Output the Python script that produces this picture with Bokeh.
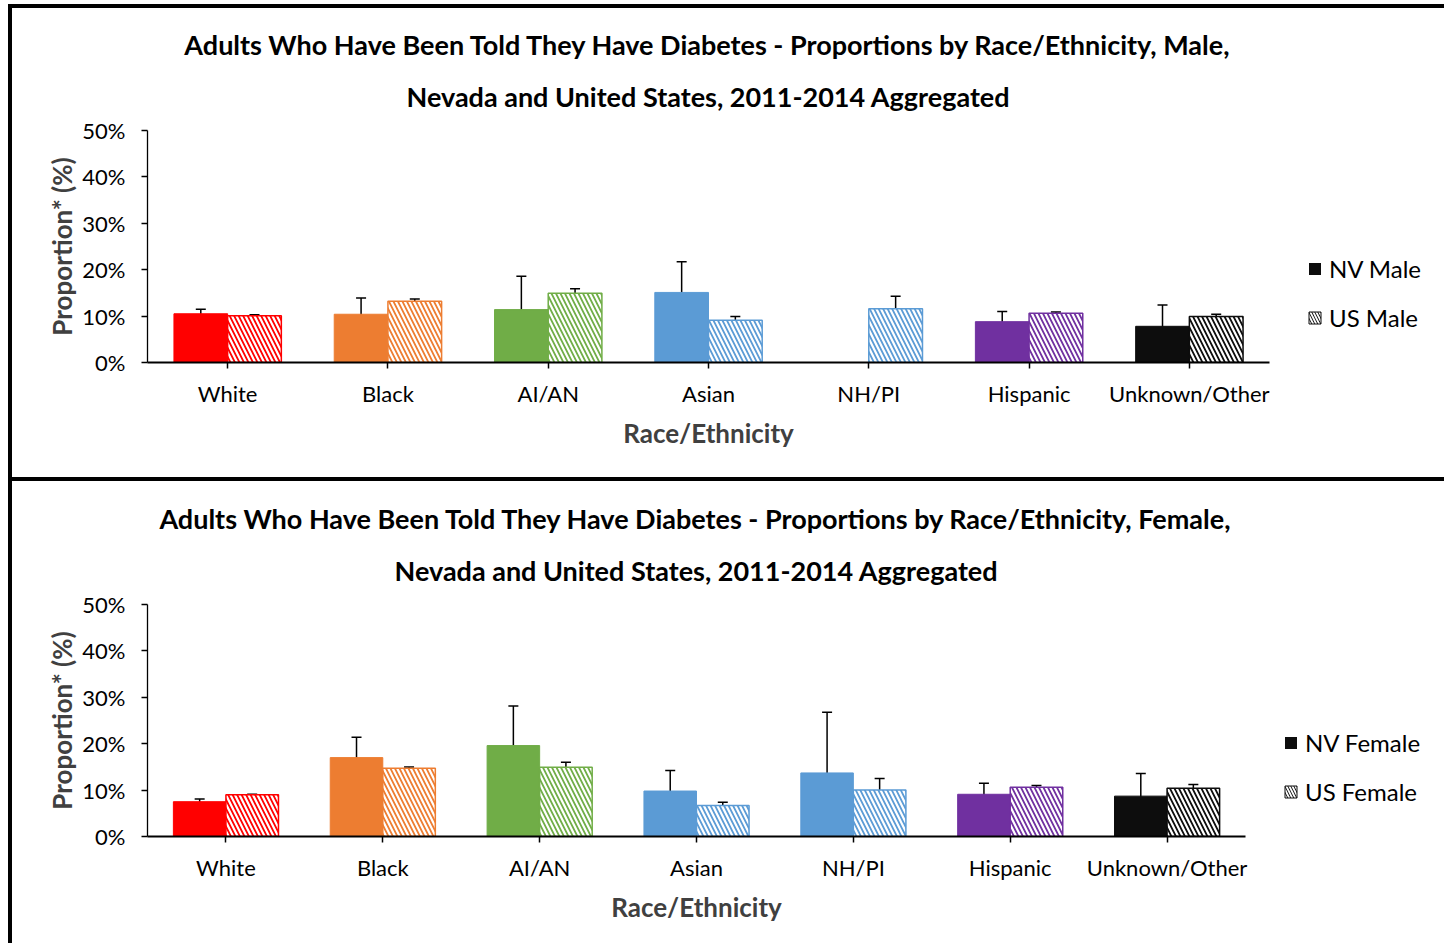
from bokeh.plotting import figure
from bokeh.models import (ColumnDataSource, FactorRange, Range1d, Whisker, TeeHead, Title,
                          Legend, LegendItem, PrintfTickFormatter, FixedTicker)
from bokeh.layouts import column
from bokeh.transform import dodge
from bokeh.embed import file_html
from bokeh.resources import INLINE

# ---------------- data ----------------
categories = ["White", "Black", "AI/AN", "Asian", "NH/PI", "Hispanic", "Unknown/Other"]
bar_colors = ["#FF0000", "#ED7D31", "#70AD47", "#5B9BD5", "#5B9BD5", "#7030A0", "#0D0D0D"]
y_ticks = [0, 10, 20, 30, 40, 50]

male_nv = [10.5, 10.4, 11.4, 15.1, None, 8.8, 7.8]
male_nv_lo = [9.2, 6.4, 3.8, 8.1, None, 6.4, 2.9]
male_nv_hi = [11.5, 13.9, 18.6, 21.7, None, 11.0, 12.4]
male_us = [10.1, 13.2, 14.9, 9.1, 11.6, 10.6, 9.9]
male_us_lo = [9.9, 12.6, 13.6, 8.0, 8.9, 10.2, 9.3]
male_us_hi = [10.3, 13.7, 15.9, 9.9, 14.3, 10.9, 10.4]

female_nv = [7.5, 17.0, 19.6, 9.8, 13.7, 9.1, 8.7]
female_nv_lo = [6.4, 12.2, 10.9, 5.2, 0.1, 6.5, 3.7]
female_nv_hi = [8.1, 21.4, 28.1, 14.2, 26.8, 11.5, 13.6]
female_us = [9.0, 14.7, 14.9, 6.7, 10.0, 10.6, 10.4]
female_us_lo = [8.9, 14.2, 13.7, 5.8, 7.3, 10.1, 9.7]
female_us_hi = [9.1, 15.0, 16.0, 7.4, 12.5, 11.0, 11.2]

male_title = ["Adults Who Have Been Told They Have Diabetes - Proportions by Race/Ethnicity, Male,",
              "Nevada and United States, 2011-2014 Aggregated"]
female_title = ["Adults Who Have Been Told They Have Diabetes - Proportions by Race/Ethnicity, Female,",
                "Nevada and United States, 2011-2014 Aggregated"]

FONT = "Lato"
BAR_W = 0.335
DODGE = BAR_W / 2


def series_source(vals, lo, hi):
    d = dict(cat=[], val=[], lo=[], hi=[], color=[])
    for c, v, l, h, col in zip(categories, vals, lo, hi, bar_colors):
        if v is None:
            continue
        d["cat"].append(c); d["val"].append(v); d["lo"].append(l); d["hi"].append(h); d["color"].append(col)
    return ColumnDataSource(d)


def make_chart(titles, nv, nv_lo, nv_hi, us, us_lo, us_hi, leg_labels,
               top_b, bottom_b, right_b, frame_w, margin):
    p = figure(x_range=FactorRange(factors=categories), y_range=Range1d(0, 50),
               frame_width=frame_w, frame_height=228,
               output_backend="svg", toolbar_location=None,
               min_border_left=135, min_border_right=right_b,
               min_border_top=top_b, min_border_bottom=bottom_b, margin=margin,
               styles={"border-left": "4px solid black", "border-top": "4px solid black"})
    p.outline_line_color = None
    p.xgrid.grid_line_color = None
    p.ygrid.grid_line_color = None
    p.background_fill_color = "white"
    p.border_fill_color = "white"

    # two-line title (line nearest the frame is added first)
    p.add_layout(Title(text=titles[1], align="center", standoff=35,
                       text_font=FONT, text_font_size="27px", text_font_style="bold",
                       text_color="black"), "above")
    p.add_layout(Title(text=titles[0], align="center", standoff=0,
                       text_font=FONT, text_font_size="27px", text_font_style="bold",
                       text_color="black"), "above")

    src_nv = series_source(nv, nv_lo, nv_hi)
    src_us = series_source(us, us_lo, us_hi)

    p.vbar(x=dodge("cat", -DODGE, range=p.x_range), top="val", width=BAR_W, source=src_nv,
           fill_color="color", line_color="color", line_width=1)
    p.vbar(x=dodge("cat", DODGE, range=p.x_range), top="val", width=BAR_W, source=src_us,
           fill_color="color", line_color="color", line_width=1.5,
           hatch_pattern="left_diagonal_line", hatch_color="white",
           hatch_scale=9, hatch_weight=2.2)

    for src, off in ((src_nv, -DODGE), (src_us, DODGE)):
        w = Whisker(base=dodge("cat", off, range=p.x_range), upper="hi", lower="lo", source=src,
                    line_color="black", line_width=1.5,
                    upper_head=TeeHead(size=10, line_color="black", line_width=1.5),
                    lower_head=TeeHead(size=10, line_color="black", line_width=1.5))
        p.add_layout(w)

    # legend (zero-height dummy bars in black)
    dummy = ColumnDataSource(dict(cat=[categories[0]], val=[0]))
    r_nv = p.vbar(x="cat", top="val", bottom="val", width=BAR_W, source=dummy,
                  fill_color="#0D0D0D", line_color=None)
    r_us = p.vbar(x="cat", top="val", bottom="val", width=BAR_W, source=dummy,
                  fill_color="#0D0D0D", line_color="#0D0D0D", line_width=1,
                  hatch_pattern="left_diagonal_line", hatch_color="white",
                  hatch_scale=6, hatch_weight=1.8)
    legend = Legend(items=[LegendItem(label=leg_labels[0], renderers=[r_nv]),
                           LegendItem(label=leg_labels[1], renderers=[r_us])],
                    location=(38, 30), orientation="vertical", padding=0, margin=0,
                    label_text_font=FONT, label_text_font_size="24px", label_text_color="black",
                    glyph_width=15, glyph_height=15, label_height=28, label_standoff=7,
                    spacing=20, border_line_color=None, background_fill_alpha=0)
    p.add_layout(legend, "right")

    # axes
    xa = p.xaxis[0]
    xa.axis_label = "Race/Ethnicity"
    xa.axis_label_text_font = FONT
    xa.axis_label_text_font_size = "26px"
    xa.axis_label_text_font_style = "bold"
    xa.axis_label_text_color = "#404040"
    xa.axis_label_standoff = 7
    xa.major_label_text_font = FONT
    xa.major_label_text_font_size = "22px"
    xa.major_label_text_color = "black"
    xa.major_label_standoff = 11
    xa.axis_line_color = "black"
    xa.axis_line_width = 2
    xa.major_tick_line_color = "black"
    xa.major_tick_line_width = 1.5
    xa.major_tick_in = 0
    xa.major_tick_out = 6

    ya = p.yaxis[0]
    ya.ticker = FixedTicker(ticks=y_ticks)
    ya.formatter = PrintfTickFormatter(format="%d%%")
    ya.axis_label = "Proportion* (%)"
    ya.axis_label_text_font = FONT
    ya.axis_label_text_font_size = "26px"
    ya.axis_label_text_font_style = "bold"
    ya.axis_label_text_color = "#404040"
    ya.axis_label_standoff = 1
    ya.major_label_text_font = FONT
    ya.major_label_text_font_size = "22px"
    ya.major_label_text_color = "black"
    ya.major_label_standoff = 16
    ya.axis_line_color = "black"
    ya.axis_line_width = 1.3
    ya.major_tick_line_color = "black"
    ya.major_tick_line_width = 1.3
    ya.major_tick_in = 0
    ya.major_tick_out = 6
    ya.minor_tick_line_color = None
    return p


top = make_chart(male_title, male_nv, male_nv_lo, male_nv_hi, male_us, male_us_lo, male_us_hi,
                 ["NV Male", "US Male"], top_b=122, bottom_b=119, right_b=171,
                 frame_w=1118, margin=(4, 0, 0, 8))
bottom = make_chart(female_title, female_nv, female_nv_lo, female_nv_hi, female_us, female_us_lo,
                    female_us_hi, ["NV Female", "US Female"], top_b=123, bottom_b=111,
                    right_b=195, frame_w=1094, margin=(0, 0, 0, 8))

layout = column(top, bottom, spacing=0)

open("out.html", "w").write(file_html(layout, INLINE))
